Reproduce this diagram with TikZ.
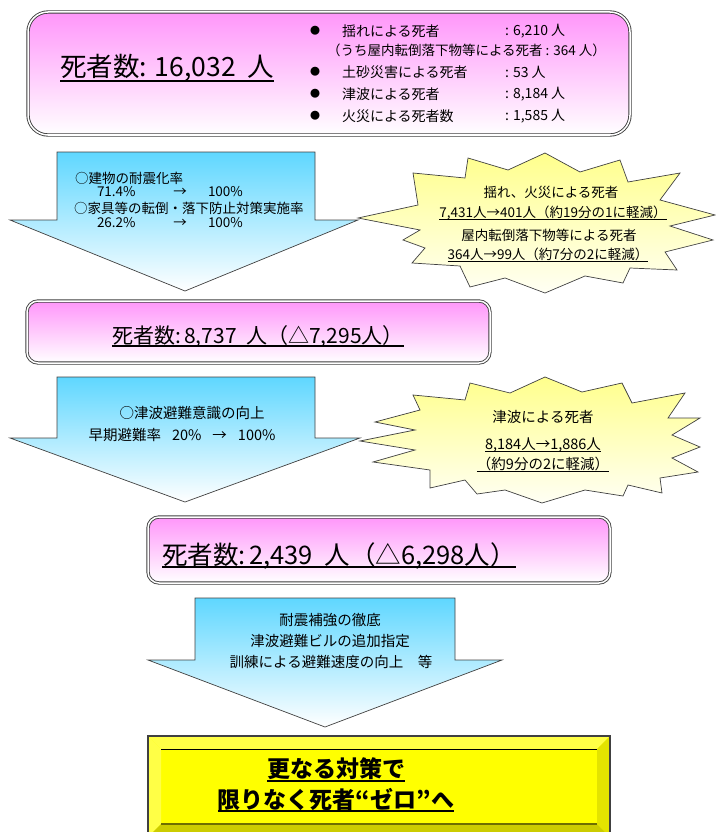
\documentclass[tikz,border=0pt]{standalone}
\usepackage{fontspec}
\setmainfont{Noto Sans CJK JP}
\definecolor{pinktop}{RGB}{255,150,250}
\definecolor{cyantop}{RGB}{95,215,255}
\definecolor{startop}{RGB}{255,255,140}
\definecolor{starbot}{RGB}{255,255,244}
\definecolor{edge}{RGB}{64,64,64}
\definecolor{yelmain}{RGB}{255,255,0}
\definecolor{yellight}{RGB}{255,255,70}
\definecolor{yeldark}{RGB}{204,204,0}
\definecolor{olive}{RGB}{110,110,0}
\newcommand\fsz[1]{\fontsize{#1}{#1}\selectfont}
\newcommand\ulx[1]{\setbox0\hbox{#1}\leavevmode\rlap{\rule[-0.17em]{\wd0}{0.075em}}\box0}
\begin{document}
\begin{tikzpicture}[x=1pt,y=-1pt,
  every node/.style={inner sep=0pt,outer sep=0pt},
  pinkbox/.style={draw=edge,line width=0.9pt,double=white,double distance=1.5pt,
    top color=pinktop,bottom color=white},
  downarrow/.style={draw=edge,line width=0.7pt,top color=cyantop,bottom color=white},
  burst/.style={draw=edge,line width=0.7pt,top color=startop,bottom color=starbot},
  listtxt/.style={anchor=west,font=\fsz{14}},
  arrtxt/.style={font=\fsz{13.5}},
  ulline/.style={}]
\useasboundingbox (0,0) rectangle (715,832);

% ---------- top box ----------
\node[pinkbox,rounded corners=20pt,minimum width=602pt,minimum height=123pt] (box1) at (329,73.5) {};
\node[anchor=base west] (title1) at (60,77) {\fsz{26.5}\ulx{死者数:\hspace{0.3em}16,032\hspace{0.45em}人}};
\foreach \yy/\nm in {31/a,72/b,94/c,116/d}{
  \node (bul\nm) at (315,\yy) {\fsz{10}●};
}
\node[listtxt] (l1) at (342,31) {揺れによる死者};
\node[listtxt] (v1) at (505,31) {: 6,210 人};
\node[anchor=west,font=\fsz{13.5}] (l1b) at (327,50) {（うち屋内転倒落下物等による死者 : 364 人）};
\node[listtxt] (l2) at (342,72) {土砂災害による死者};
\node[listtxt] (v2) at (505,72) {: 53 人};
\node[listtxt] (l3) at (342,94) {津波による死者};
\node[listtxt] (v3) at (505,94) {: 8,184 人};
\node[listtxt] (l4) at (342,116) {火災による死者数};
\node[listtxt] (v4) at (505,116) {: 1,585 人};

% ---------- arrow 1 ----------
\path[downarrow] (57,152) -- (315,152) -- (315,220) -- (358,220) -- (185,291) -- (10,220) -- (57,220) -- cycle;
\node[arrtxt,anchor=west] (a1l1) at (75,178) {○建物の耐震化率};
\node[arrtxt,anchor=west] (a1n1) at (97,192) {71.4\%};
\node[arrtxt] (a1r1) at (180,192) {→};
\node[arrtxt,anchor=west] (a1m1) at (208,192) {100\%};
\node[arrtxt,anchor=west] (a1l2) at (74,208) {○家具等の転倒・落下防止対策実施率};
\node[arrtxt,anchor=west] (a1n2) at (97,223) {26.2\%};
\node[arrtxt] (a1r2) at (180,223) {→};
\node[arrtxt,anchor=west] (a1m2) at (208,223) {100\%};

% ---------- burst 1 ----------
\path[burst] (545,153) -- (580,172) -- (620,160) -- (628,182) -- (680,173) -- (660,200)
  -- (715,215) -- (670,226) -- (713,240) -- (665,252) -- (677,270) -- (630,268)
  -- (623,283) -- (585,276) -- (545,293) -- (505,278) -- (470,287) -- (460,266)
  -- (412,263) -- (425,248) -- (403,240) -- (420,230) -- (358,218) -- (418,205)
  -- (413,173) -- (465,178) -- (468,158) -- (508,170) -- cycle;
\node[arrtxt] (s1a) at (551,192) {揺れ、火災による死者};
\node[arrtxt] (s1b) at (553,213) {\ulx{7,431人→401人（約19分の1に軽減）}};
\node[arrtxt] (s1c) at (549,235) {屋内転倒落下物等による死者};
\node[arrtxt] (s1d) at (548,255) {\ulx{364人→99人（約7分の2に軽減）}};

% ---------- box 2 ----------
\node[pinkbox,rounded corners=11pt,minimum width=463pt,minimum height=62pt] (box2) at (258.5,332) {};
\node[anchor=base] (title2) at (258,343) {\fsz{21}\ulx{死者数:\hspace{0.15em}8,737\hspace{0.45em}人（△7,295人）}};

% ---------- arrow 2 ----------
\path[downarrow] (57,377) -- (315,377) -- (315,438) -- (360,438) -- (185,502) -- (10,438) -- (57,438) -- cycle;
\node[font=\fsz{14.5}] (a2l1) at (192,413) {○津波避難意識の向上};
\node[font=\fsz{14.5}] (a2l2) at (182,435) {早期避難率\hspace{11pt}20\%\hspace{11pt}→\hspace{11pt}100\%};

% ---------- burst 2 ----------
\path[burst] (545,377) -- (582,392) -- (622,383) -- (632,403) -- (685,393) -- (668,418)
  -- (700,418) -- (672,435) -- (700,447) -- (672,458) -- (698,472) -- (660,478)
  -- (662,493) -- (628,485) -- (623,496) -- (585,490) -- (542,503) -- (505,490)
  -- (477,494) -- (465,480) -- (430,488) -- (430,470) -- (373,462) -- (415,450)
  -- (360,441) -- (415,430) -- (375,422) -- (420,410) -- (413,395) -- (465,400)
  -- (470,383) -- (510,393) -- cycle;
\node[font=\fsz{14.5}] (s2a) at (543,417) {津波による死者};
\node[font=\fsz{14.5}] (s2b) at (543,445) {\ulx{8,184人→1,886人}};
\node[font=\fsz{14.5}] (s2c) at (543,465) {\ulx{（約9分の2に軽減）}};

% ---------- box 3 ----------
\node[pinkbox,rounded corners=11pt,minimum width=462pt,minimum height=66pt] (box3) at (379,550) {};
\node[anchor=base west] (title3) at (162,564) {\fsz{25.5}\ulx{死者数:\hspace{0.15em}2,439\hspace{0.45em}人（△6,298人）}};

% ---------- arrow 3 ----------
\path[downarrow] (195,598) -- (455,598) -- (455,660) -- (502,660) -- (325,727) -- (148,660) -- (195,660) -- cycle;
\node[font=\fsz{14.5}] (a3l1) at (330,620) {耐震補強の徹底};
\node[font=\fsz{14.5}] (a3l2) at (330,641) {津波避難ビルの追加指定};
\node[font=\fsz{14.5}] (a3l3) at (331,662) {訓練による避難速度の向上　等};

% ---------- goal box (bevel) ----------
\fill[yelmain] (148,736) rectangle (610,837);
\fill[yellight] (148,736) -- (610,736) -- (597,749) -- (161,749) -- cycle;
\fill[yellight] (148,736) -- (161,749) -- (161,824) -- (148,837) -- cycle;
\fill[yeldark!55!yelmain] (610,736) -- (610,837) -- (597,824) -- (597,749) -- cycle;
\fill[yeldark] (148,837) -- (161,824) -- (597,824) -- (610,837) -- cycle;
\draw[edge,line width=1.6pt] (148,736) rectangle (610,837);
\draw[black,line width=1pt] (161,749) -- (597,749);
\draw[olive,line width=1.2pt] (161,824) -- (597,824);
\node[font=\fsz{23}\bfseries] (goal1) at (336,770) {\ulx{更なる対策で}};
\node[font=\fsz{23}\bfseries] (goal2) at (336,800) {\ulx{限りなく死者“ゼロ”へ}};
\end{tikzpicture}
\end{document}
